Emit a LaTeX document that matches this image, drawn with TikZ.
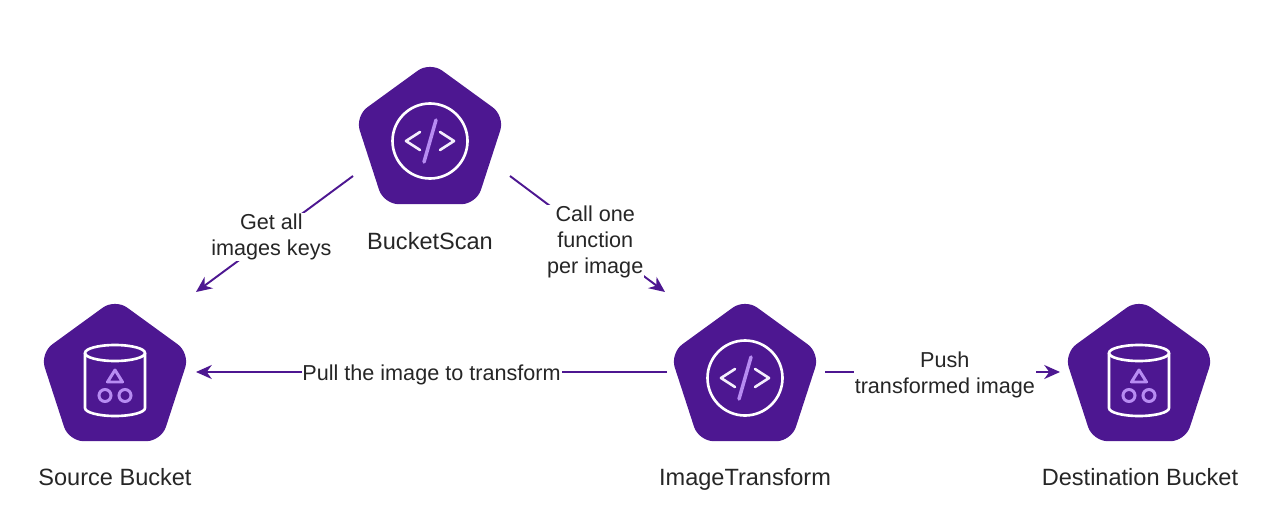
\documentclass[tikz,border=0pt]{standalone}
\usepackage{fontspec}
\setmainfont{Liberation Sans}
\usetikzlibrary{shapes.geometric,arrows.meta}
\definecolor{lambdapurple}{HTML}{4D1791}
\definecolor{iconlilac}{HTML}{B78CF2}
\tikzset{
	service/.style={regular polygon,regular polygon sides=5,minimum size=3.15cm,inner sep=0pt,fill=lambdapurple,rounded corners=0.3cm},
	servicename/.style={anchor=base,font=\fontsize{13.4}{16}\selectfont,text=black!85},
	flow/.style={draw=lambdapurple,line width=1.1pt,-{Stealth[length=9pt,width=8pt]}},
	flowlabel/.style={fill=white,inner sep=0.5pt,align=center,font=\fontsize{12.3}{14.7}\selectfont,text=black!85},
	iconline/.style={draw=white,line width=1.5pt},
	iconaccent/.style={draw=iconlilac,line width=1.7pt},
}
\newcommand{\codeicon}[1]{
	\begin{scope}[shift={(#1)}]
		\draw [iconline] (0,0) circle (37.5);
		\draw [iconline,draw=white!85!iconlilac,line cap=round,line join=round] (-10,-9) -- (-24,0) -- (-10,9);
		\draw [iconline,draw=white!85!iconlilac,line cap=round,line join=round] (10,-9) -- (24,0) -- (10,9);
		\draw [iconaccent,line width=2pt,line cap=round] (6,-21) -- (-6,21);
	\end{scope}
}
\newcommand{\bucketicon}[1]{
	\begin{scope}[shift={(#1)}]
		\draw [iconline] (0,-25) ellipse (30 and 8);
		\draw [iconline] (-30,-25) -- (-30,30) arc [start angle=180,end angle=360,x radius=30,y radius=-8] -- (30,-25);
		\draw [iconaccent,line join=round] (0,-8) -- (7.5,4) -- (-7.5,4) -- cycle;
		\draw [iconaccent] (-10,17.5) circle (6);
		\draw [iconaccent] (10,17.5) circle (6);
	\end{scope}
}
\begin{document}
\begin{tikzpicture}[x=0.02cm,y=-0.02cm]
	\useasboundingbox (0,0) rectangle (1270,524);
	%services
	\node [service] (scan) at (430,140.5) {};
	\node [service] (source) at (115,377.5) {};
	\node [service] (transform) at (745,377.5) {};
	\node [service] (destination) at (1139,377.5) {};
	\codeicon{430,141}
	\codeicon{745,378}
	\bucketicon{115,378}
	\bucketicon{1139,378}
	%names
	\node [servicename] (scanname) at (430,249.5) {BucketScan};
	\node [servicename] (sourcename) at (115,485.5) {Source Bucket};
	\node [servicename] (transformname) at (745,485.5) {ImageTransform};
	\node [servicename] (destinationname) at (1140,485.5) {Destination Bucket};
	%connectors
	\draw [flow] ([shift={(-77,35.5)}]scan.center) -- node [flowlabel,pos=0.52,yshift=-0.3pt] {Get all\\images keys} ([shift={(81,-85.5)}]source.center);
	\draw [flow] ([shift={(80,35.5)}]scan.center) -- node [flowlabel,pos=0.55,yshift=-1.2pt] {Call one\\function\\per image} ([shift={(-80,-85.5)}]transform.center);
	\draw [flow] ([shift={(-78,-5.5)}]transform.center) -- node [flowlabel,pos=0.5,yshift=-1.7pt] {Pull the image to transform} ([shift={(81,-5.5)}]source.center);
	\draw [flow] ([shift={(80,-5.5)}]transform.center) -- node [flowlabel,pos=0.51,yshift=-1.6pt] {Push\\transformed image} ([shift={(-79,-5.5)}]destination.center);
\end{tikzpicture}
\end{document}
